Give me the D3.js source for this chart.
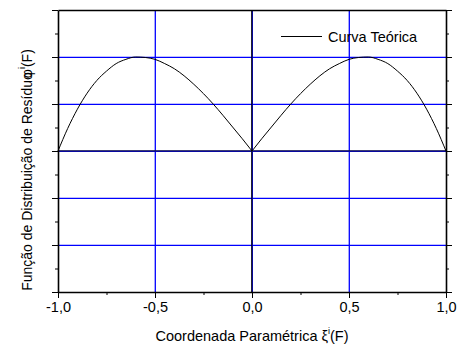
<!DOCTYPE html>
<html><head><meta charset="utf-8">
<script src="https://cdn.jsdelivr.net/npm/d3@7"></script>
<style>body{margin:0;background:#fff}svg{display:block}</style>
</head><body>
<svg id="c" width="462" height="349"></svg>
<script>
const xVals = [-1.0,-0.95,-0.9,-0.85,-0.8,-0.75,-0.7,-0.65,-0.6,-0.55,-0.5,-0.45,-0.4,-0.35,-0.3,-0.25,-0.2,-0.15,-0.1,-0.05,0.0,0.05,0.1,0.15,0.2,0.25,0.3,0.35,0.4,0.45,0.5,0.55,0.6,0.65,0.7,0.75,0.8,0.85,0.9,0.95,1.0];
const yVals = [0,0.48,0.89,1.23,1.50,1.70,1.86,1.95,2.00,1.99,1.95,1.86,1.75,1.60,1.42,1.22,1.00,0.76,0.51,0.26,0,0.26,0.51,0.76,1.00,1.22,1.42,1.60,1.75,1.86,1.95,1.99,2.00,1.95,1.86,1.70,1.50,1.23,0.89,0.48,0];
const xTicks = [-1,-0.5,0,0.5,1];
const xTickLabels = ["-1,0","-0,5","0,0","0,5","1,0"];
const xMinor = [-0.75,-0.25,0.25,0.75];
const yMajor = [-3,-2,-1,0,1,2,3];
const yMinor = [-2.5,-1.5,-0.5,0.5,1.5,2.5];
const seriesName = "Curva Teórica";

const svg = d3.select("#c");
const L=58,R=446,T=10,B=292;
const x = d3.scaleLinear().domain([-1,1]).range([L,R]);
const y = d3.scaleLinear().domain([-3,3]).range([B,T]);
const font = "Liberation Sans, Arial, sans-serif";
const FS = 14.5;

// grid (blue), zero lines drawn in black on top
const g = svg.append("g");
g.selectAll("line.vg").data(xTicks.slice(1,-1)).join("line").attr("class","vg")
  .attr("x1",d=>x(d)+0.3).attr("x2",d=>x(d)+0.3).attr("y1",T).attr("y2",B)
  .attr("stroke","#0000ff").attr("stroke-width",1.3);
g.selectAll("line.hg").data(yMajor.slice(1,-1)).join("line").attr("class","hg")
  .attr("x1",L).attr("x2",R).attr("y1",d=>y(d)+0.3).attr("y2",d=>y(d)+0.3)
  .attr("stroke","#0000ff").attr("stroke-width",1.3);
g.append("line").attr("x1",x(0)-0.2).attr("x2",x(0)-0.2).attr("y1",T).attr("y2",B).attr("stroke","#000").attr("stroke-width",1.2);
g.append("line").attr("x1",L).attr("x2",R).attr("y1",y(0)-0.2).attr("y2",y(0)-0.2).attr("stroke","#101040").attr("stroke-width",1.2);

// curve (two halves so the cusp at 0 stays sharp)
const pts = xVals.map((xv,i)=>[xv,yVals[i]]);
const line = d3.line().x(d=>x(d[0])).y(d=>y(d[1])).curve(d3.curveMonotoneX);
[pts.filter(d=>d[0]<=0), pts.filter(d=>d[0]>=0)].forEach(p=>{
  svg.append("path").attr("d",line(p)).attr("fill","none").attr("stroke","#000").attr("stroke-width",1);
});

// axes
function styleAxis(sel){sel.selectAll("path,line").attr("stroke","#000");sel.select(".domain").attr("stroke-width",1.6);}
const xa = svg.append("g").attr("transform",`translate(0,${B})`)
  .call(d3.axisBottom(x).tickValues(xTicks).tickFormat((d,i)=>xTickLabels[i]).tickSizeInner(6).tickSizeOuter(0).tickPadding(4));
xa.selectAll("text").attr("font-family",font).attr("font-size",FS).attr("fill","#000");
styleAxis(xa);
const xm = svg.append("g").attr("transform",`translate(0,${B})`)
  .call(d3.axisBottom(x).tickValues(xMinor).tickFormat("").tickSizeInner(3).tickSizeOuter(0));
xm.select(".domain").remove(); styleAxis(xm);

[[d3.axisLeft,L],[d3.axisRight,R]].forEach(([ax,px])=>{
  const a = svg.append("g").attr("transform",`translate(${px},0)`)
    .call(ax(y).tickValues(yMajor).tickFormat("").tickSizeInner(6).tickSizeOuter(0));
  styleAxis(a);
  const m = svg.append("g").attr("transform",`translate(${px},0)`)
    .call(ax(y).tickValues(yMinor).tickFormat("").tickSizeInner(3).tickSizeOuter(0));
  m.select(".domain").remove(); styleAxis(m);
});
const ta = svg.append("g").attr("transform",`translate(0,${T})`)
  .call(d3.axisTop(x).tickValues([]).tickSizeOuter(0));
styleAxis(ta);

// labels
const xl = svg.append("text").attr("x",252).attr("y",341).attr("text-anchor","middle")
  .attr("font-family",font).attr("font-size",FS).attr("fill","#000");
xl.append("tspan").text("Coordenada Paramétrica ξ");
xl.append("tspan").attr("font-size",9).attr("dy",-7).text("i");
xl.append("tspan").attr("dy",7).text("(F)");

const yl = svg.append("text").attr("transform","translate(32,170) rotate(-90)").attr("text-anchor","middle")
  .attr("font-family",font).attr("font-size",14).attr("fill","#000");
yl.append("tspan").text("Função de Distribuição de Resíduo");
yl.append("tspan").attr("dx",-6).text("φ");
yl.append("tspan").attr("font-size",9).attr("dy",-7).text("i");
yl.append("tspan").attr("dy",7).text("(F)");

// legend
svg.append("line").attr("x1",281).attr("x2",322).attr("y1",36.5).attr("y2",36.5).attr("stroke","#000").attr("stroke-width",1);
svg.append("text").attr("x",328).attr("y",41.5).attr("font-family",font).attr("font-size",FS).attr("fill","#000").text(seriesName);
</script>
</body></html>
